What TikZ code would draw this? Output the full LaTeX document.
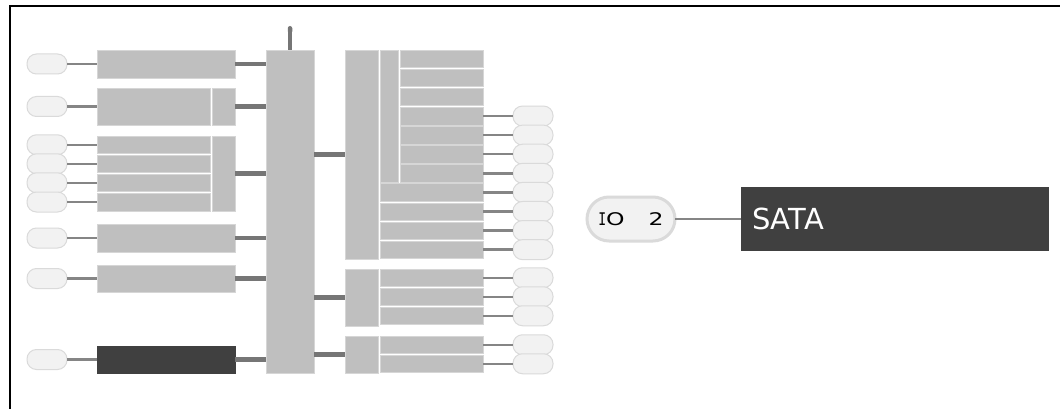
\documentclass[tikz,border=0pt]{standalone}
\usepackage{fontspec}
\setmainfont{DejaVu Sans}
\newfontfamily\iofont[FakeStretch=1.35]{DejaVu Sans}
\newfontfamily\iofontI[FakeStretch=0.75]{DejaVu Sans Mono}
\usetikzlibrary{positioning,arrows.meta}
\definecolor{boxgray}{HTML}{BFBFBF}
\definecolor{boxedge}{HTML}{D6D6D6}
\definecolor{darkfill}{HTML}{404040}
\definecolor{pillfill}{HTML}{F2F2F2}
\definecolor{pilledge}{HTML}{DADADA}
\definecolor{thinline}{HTML}{858585}
\definecolor{thickline}{HTML}{767676}
\tikzset{
  blk/.style={rectangle, fill=boxgray, draw=boxedge, line width=0.4pt, inner sep=0pt, outer sep=0pt},
  darkblk/.style={blk, fill=darkfill, draw=darkfill},
  pill/.style={rectangle, rounded corners=9.5pt, fill=pillfill, draw=pilledge, line width=1pt,
    minimum width=40pt, minimum height=20pt, inner sep=0pt, outer sep=0pt},
  iopill/.style={rectangle, rounded corners=22pt, fill=pillfill, draw=pilledge, line width=3pt,
    minimum width=88pt, minimum height=44pt, inner sep=0pt, outer sep=0pt, font=\fontsize{17.4}{20}\selectfont},
  pline/.style={draw=thinline, line width=2.5pt},
  bline/.style={draw=thickline, line width=4.5pt},
}
\newcommand\mkbox[6]{\pgfmathsetmacro\bxw{#4-#2}\pgfmathsetmacro\bxh{#5-#3}%
  \node[#6, minimum width=\bxw pt, minimum height=\bxh pt, anchor=north west] (#1) at (#2,#3) {};}
\begin{document}
\begin{tikzpicture}[x=1pt,y=-1pt]
\useasboundingbox (0,0) rectangle (1060,409);
\fill[white] (0,0) rectangle (1060,409);
\draw[line width=2pt, black] (10,5.7) rectangle (1080,430);
% left boxes
\mkbox{b1}{97}{50}{235}{78}{blk}
\mkbox{b2a}{97}{88}{210.2}{125}{blk}
\mkbox{b2b}{212}{88}{235}{125}{blk}
\mkbox{b3a}{97}{136}{210.2}{153.6}{blk}
\mkbox{b3b}{97}{155}{210.2}{172.6}{blk}
\mkbox{b3c}{97}{174}{210.2}{191.6}{blk}
\mkbox{b3d}{97}{193}{210.2}{211}{blk}
\mkbox{b3e}{212}{136}{235}{211}{blk}
\mkbox{b7}{97}{224}{235}{252}{blk}
\mkbox{b8}{97}{265}{235}{292}{blk}
\mkbox{b9}{97}{346}{235}{373}{darkblk}
\mkbox{col}{266}{50}{314}{373}{blk}
% left pills
\foreach \b in {b1,b2a,b3a,b3b,b3c,b3d,b7,b8,b9}{
  \node[pill, left=30pt of \b] (p\b) {};
  \draw[pline] (p\b.east) -- (p\b.east -| \b.west);
}
% thick connectors left -> column
\foreach \b in {b1,b2b,b3e,b7,b8,b9}{
  \draw[bline] (\b.east) -- (\b.east -| col.west);
}
\coordinate (top) at (290,26);
\draw[bline, -{Round Cap[]}] (col.north) -- (top);
% right group 1
\mkbox{g1}{345}{50}{378.3}{259}{blk}
\mkbox{g1m}{380}{50}{398.3}{182.5}{blk}
\foreach \k in {0,...,10}{
  \pgfmathsetmacro\ya{50+19.09*\k}\pgfmathsetmacro\yb{\ya+17.5}
  \pgfmathsetmacro\xa{\k<7 ? 400 : 380}
  \mkbox{r\k}{\xa}{\ya}{483}{\yb}{blk}
}
\foreach \k in {3,...,10}{
  \node[pill, right=30pt of r\k] (rp\k) {};
  \draw[pline] (r\k.east) -- (rp\k.west);
}
% right group 2
\mkbox{g2}{345}{269}{378.3}{326}{blk}
\foreach \k in {0,1,2}{
  \pgfmathsetmacro\ya{269+19*\k}\pgfmathsetmacro\yb{\ya+17.5}
  \mkbox{s\k}{380}{\ya}{483}{\yb}{blk}
  \node[pill, right=30pt of s\k] (sp\k) {};
  \draw[pline] (s\k.east) -- (sp\k.west);
}
% right group 3
\mkbox{g3}{345}{336}{378.3}{373}{blk}
\foreach \k in {0,1}{
  \pgfmathsetmacro\ya{336+19*\k}\pgfmathsetmacro\yb{\ya+17.5}
  \mkbox{t\k}{380}{\ya}{483}{\yb}{blk}
  \node[pill, right=30pt of t\k] (tp\k) {};
  \draw[pline] (t\k.east) -- (tp\k.west);
}
% thick connectors column -> right groups
\foreach \g in {g1,g2,g3}{
  \draw[bline] (\g.west -| col.east) -- (\g.west);
}
% IO 2 and SATA
\node[iopill] (io) at (631,219) {{\iofontI I}{\iofont O\hspace{24pt}2}\hspace{5pt}};
\node[darkblk, anchor=north west, minimum width=307pt, minimum height=63pt, text width=285pt,
  align=left, inner xsep=11pt, text=white, font=\fontsize{29}{34}\selectfont] (sata) at (741,187) {SATA};
\draw[draw=thinline, line width=2.2pt] (io.east) -- (io.east -| sata.west);
\end{tikzpicture}
\end{document}
